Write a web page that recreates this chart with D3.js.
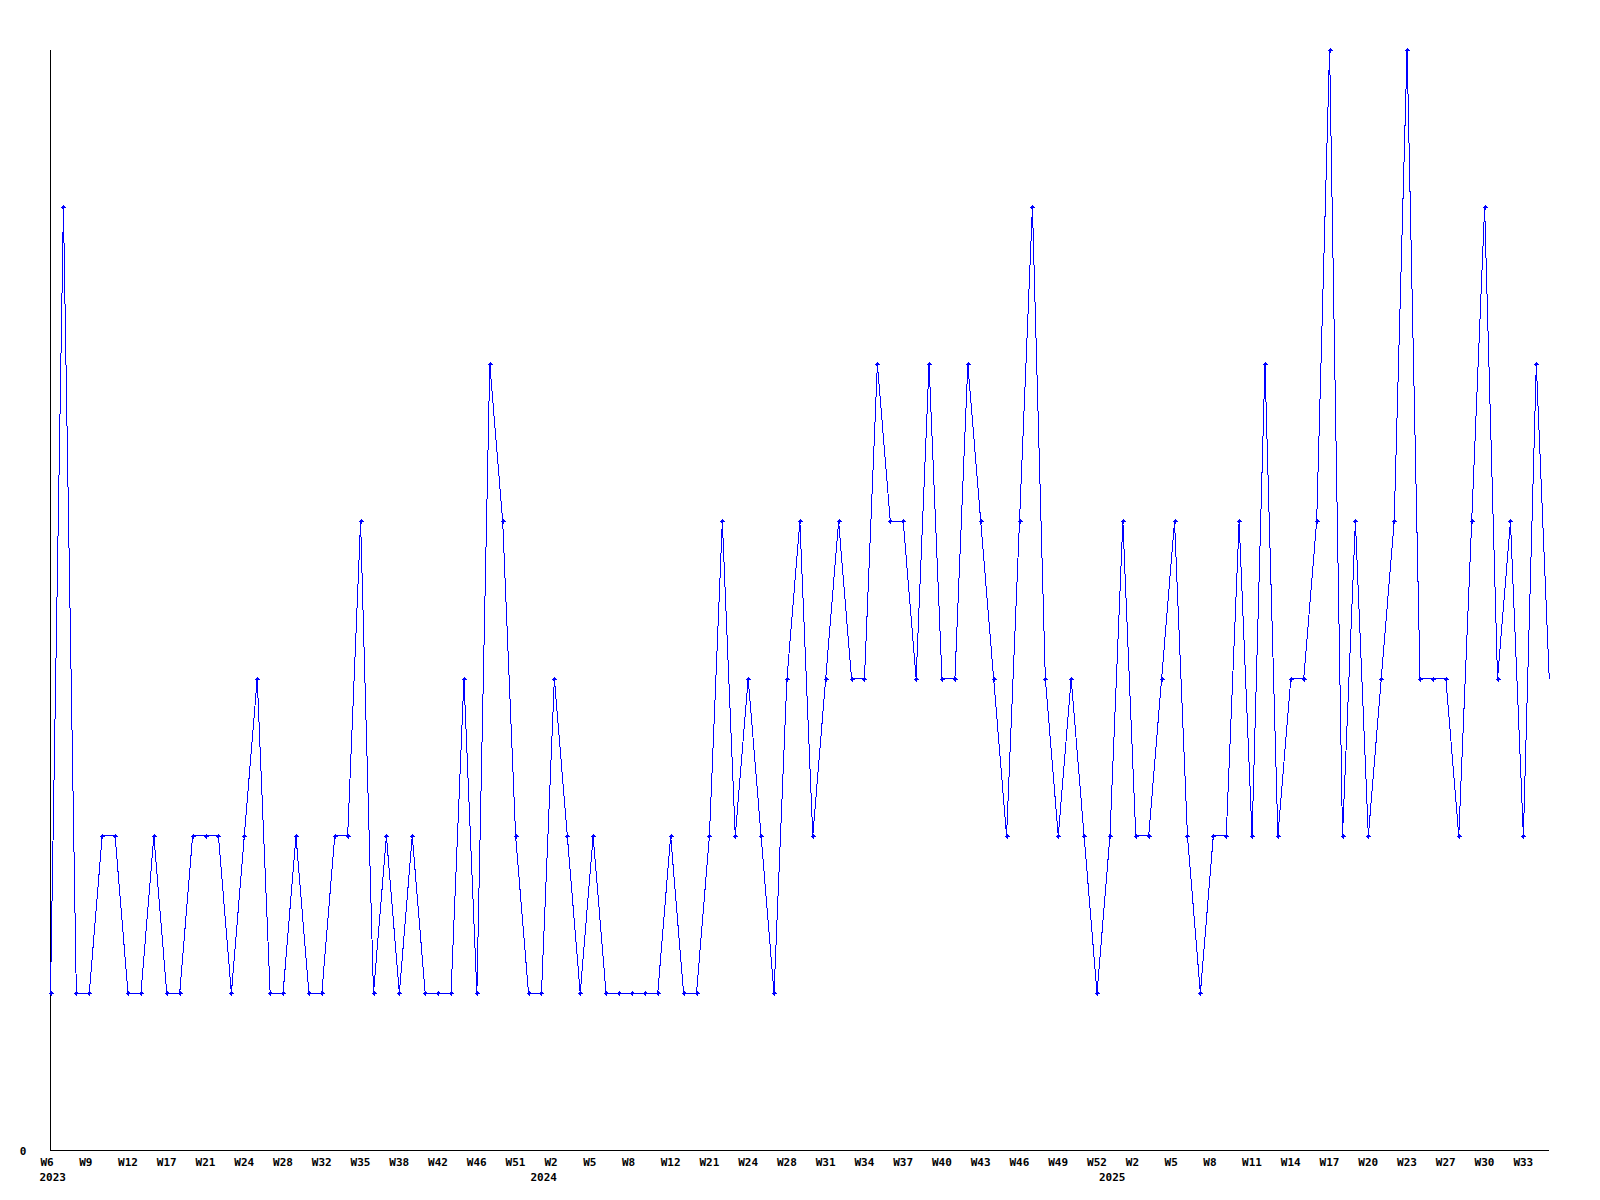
<!DOCTYPE html>
<html>
<head>
<meta charset="utf-8">
<script src="https://cdn.jsdelivr.net/npm/d3@7"></script>
<style>
  html, body { margin: 0; padding: 0; background: #fff; }
  svg text { font-family: "DejaVu Sans Mono", "Liberation Mono", monospace; font-weight: bold; font-size: 11px; fill: #000; }
</style>
</head>
<body>
<svg id="chart" width="1600" height="1200"></svg>
<script>
// Weekly values, one per point (117 points)
const values = [
  1,6,1,1,2,2,1,1,2,1,
  1,2,2,2,1,2,3,1,1,2,
  1,1,2,2,4,1,2,1,2,1,
  1,1,3,1,5,4,2,1,1,3,
  2,1,2,1,1,1,1,1,2,1,
  1,2,4,2,3,2,1,3,4,2,
  3,4,3,3,5,4,4,3,5,3,
  3,5,4,3,2,4,6,3,2,3,
  2,1,2,4,2,2,3,4,2,1,
  2,2,4,2,5,2,3,3,4,7,
  2,4,2,3,4,7,3,3,3,2,
  4,6,3,4,2,5,3
];
// Tick labels, one every third point
const weekLabels = ["W6","W9","W12","W17","W21","W24","W28","W32","W35","W38","W42","W46","W51",
  "W2","W5","W8","W12","W21","W24","W28","W31","W34","W37","W40","W43","W46","W49","W52",
  "W2","W5","W8","W11","W14","W17","W20","W23","W27","W30","W33"];
const weekLabelStep = 3;
const yearLabels = ["2023","2024","2025"];
const yearLabelIndex = [0, 38, 82];
const yTickValues = [0];

const svg = d3.select("#chart");
const idx = d3.range(values.length);

const x = d3.scalePoint().domain(idx).range([50.5, 50.5 + (values.length - 1) * 12.92]);
const y = d3.scaleLinear().domain([0, 7]).range([1150.5, 49.5]);

// axes lines
svg.append("line").attr("x1", x(0)).attr("x2", x(0)).attr("y1", y(7)).attr("y2", y(0))
  .attr("stroke", "#000").attr("stroke-width", 1).attr("shape-rendering", "crispEdges");
svg.append("line").attr("x1", x(0)).attr("x2", x(values.length - 1)).attr("y1", y(0)).attr("y2", y(0))
  .attr("stroke", "#000").attr("stroke-width", 1).attr("shape-rendering", "crispEdges");

// y tick label
svg.selectAll("text.ytick").data(yTickValues).join("text").attr("class", "ytick")
  .attr("x", 23).attr("y", d => y(d) + 4).attr("text-anchor", "middle").text(d => d);

// week labels
svg.selectAll("text.wk").data(weekLabels).join("text").attr("class", "wk")
  .attr("x", (d, i) => x(i * weekLabelStep) - 10).attr("y", 1166).text(d => d);

// year labels
svg.selectAll("text.yr").data(yearLabels).join("text").attr("class", "yr")
  .attr("x", (d, i) => x(yearLabelIndex[i]) - 11).attr("y", 1181).text(d => d);

// line
const line = d3.line().x((d, i) => x(i)).y(d => y(d));
svg.append("path").datum(values).attr("d", line)
  .attr("fill", "none").attr("stroke", "#0000ff").attr("stroke-width", 1)
  .attr("shape-rendering", "crispEdges");

// markers (all but the last point)
const marker = "M-2.5,-0.5h5v1h-5z M-0.5,-2.5h1v5h-1z M-1.5,-1h3v2h-3z M-1,-1.5h2v3h-2z";
svg.selectAll("path.mk").data(values.slice(0, -1)).join("path").attr("class", "mk")
  .attr("transform", (d, i) => `translate(${Math.round(x(i))},${Math.round(y(d))})`)
  .attr("d", marker).attr("fill", "#0000ff").attr("shape-rendering", "crispEdges");
</script>
</body>
</html>
